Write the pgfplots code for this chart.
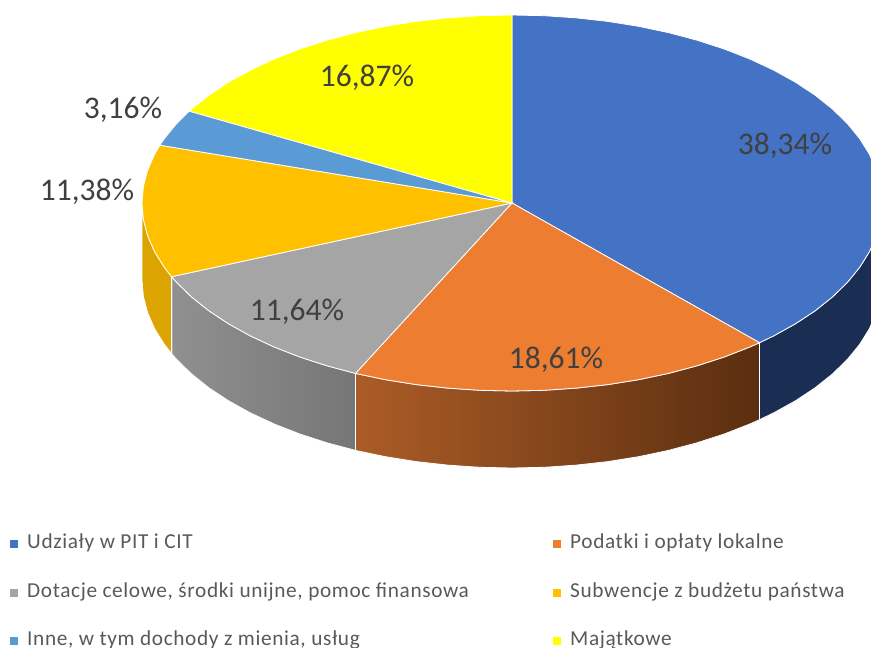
\documentclass[border=0pt]{standalone}
\usepackage{pgfplots}
\pgfplotsset{compat=1.18}
\usepackage{fontspec}
\setmainfont{Carlito}
\newfontfamily\legfont[LetterSpace=3]{Carlito}
\definecolor{c1}{HTML}{4472C4}
\definecolor{c2}{HTML}{ED7D31}
\definecolor{c3}{HTML}{A5A5A5}
\definecolor{c4}{HTML}{FFC000}
\definecolor{c5}{HTML}{5B9BD5}
\definecolor{c6}{HTML}{FFFF00}
\definecolor{lab}{HTML}{404040}
\definecolor{leg}{HTML}{595959}
\begin{document}
\begin{tikzpicture}
\useasboundingbox (0,0) rectangle (871pt,648pt);
\clip (0,0) rectangle (871pt,648pt);
\begin{axis}[
  scale only axis, width=871pt, height=648pt,
  xmin=0, xmax=871, ymin=0, ymax=648, y dir=reverse,
  hide axis,
  legend columns=2,
  legend cell align=left,
  legend image code/.code={\path[#1,draw=none] (0pt,-4pt) rectangle (8pt,4pt);},
  legend style={at={(axis cs:7,532.5)}, anchor=north west, draw=none, fill=none,
    font=\fontsize{21.3}{25}\selectfont\legfont\color{leg},
    row sep=29.5pt,
    nodes={inner xsep=3pt, inner ysep=0pt, text height=14pt, text depth=5pt}},
]
% sides
\addplot[forget plot, fill={rgb,255:red,26;green,45;blue,82}, draw=white, line width=0.8pt] coordinates {
(882,203)(880.6,219.4)(876.4,235.6)(869.4,251.7)(859.7,267.3)(847.3,282.5)(832.4,297)(815.1,310.8)(795.4,323.8)(773.6,335.9)(759.5,342.7)
(759.5,419.7)(773.6,412.9)(795.4,400.8)(815.1,387.8)(832.4,374)(847.3,359.5)(859.7,344.3)(869.4,328.7)(876.4,312.6)(880.6,296.4)(882,280)} --cycle;
\addplot[forget plot, left color={rgb,255:red,172;green,92;blue,38}, right color={rgb,255:red,90;green,46;blue,16}, draw=white, line width=0.8pt] coordinates {
(759.5,342.7)(749.8,347)(724.2,357)(697,365.8)(668.4,373.4)(638.5,379.7)(607.8,384.6)(576.3,388.1)(544.2,390.3)(512,391)(479.8,390.3)(447.7,388.1)(416.2,384.6)(385.5,379.7)(355.5,373.4)
(355.5,450.4)(385.5,456.7)(416.2,461.6)(447.7,465.1)(479.8,467.3)(512,468)(544.2,467.3)(576.3,465.1)(607.8,461.6)(638.5,456.7)(668.4,450.4)(697,442.8)(724.2,434)(749.8,424)(759.5,419.7)} --cycle;
\addplot[forget plot, left color={rgb,255:red,144;green,144;blue,144}, right color={rgb,255:red,118;green,118;blue,118}, draw=white, line width=0.8pt] coordinates {
(355.5,373.4)(327,365.8)(299.8,357)(274.2,347)(250.4,335.9)(228.6,323.8)(208.9,310.8)(191.6,297)(176.7,282.5)(171.6,276.7)
(171.6,353.7)(176.7,359.5)(191.6,374)(208.9,387.8)(228.6,400.8)(250.4,412.9)(274.2,424)(299.8,434)(327,442.8)(355.5,450.4)} --cycle;
\addplot[forget plot, fill={rgb,255:red,219;green,164;blue,0}, draw=white, line width=0.8pt] coordinates {
(171.6,276.7)(164.3,267.3)(154.6,251.7)(147.6,235.6)(143.4,219.4)(142,203)
(142,280)(143.4,296.4)(147.6,312.6)(154.6,328.7)(164.3,344.3)(171.6,353.7)} --cycle;
% tops
\addplot[fill=c1, draw=white, line width=0.8pt] coordinates {
(512,203)(512,15)(544.2,15.7)(576.3,17.9)(607.8,21.4)(638.5,26.3)(668.4,32.6)(697,40.2)(724.2,49)(749.8,59)(773.6,70.1)(795.4,82.2)(815.1,95.2)(832.4,109)(847.3,123.5)(859.7,138.7)(869.4,154.3)(876.4,170.4)(880.6,186.6)(882,203)(880.6,219.4)(876.4,235.6)(869.4,251.7)(859.7,267.3)(847.3,282.5)(832.4,297)(815.1,310.8)(795.4,323.8)(773.6,335.9)(759.5,342.7)} --cycle;
\addlegendentry{\makebox[529pt][l]{\hspace*{6pt}Udziały w PIT i CIT}}
\addplot[fill=c2, draw=white, line width=0.8pt] coordinates {
(512,203)(759.5,342.7)(749.8,347)(724.2,357)(697,365.8)(668.4,373.4)(638.5,379.7)(607.8,384.6)(576.3,388.1)(544.2,390.3)(512,391)(479.8,390.3)(447.7,388.1)(416.2,384.6)(385.5,379.7)(355.5,373.4)} --cycle;
\addlegendentry{\hspace*{6pt}Podatki i opłaty lokalne}
\addplot[fill=c3, draw=white, line width=0.8pt] coordinates {
(512,203)(355.5,373.4)(327,365.8)(299.8,357)(274.2,347)(250.4,335.9)(228.6,323.8)(208.9,310.8)(191.6,297)(176.7,282.5)(171.6,276.7)} --cycle;
\addlegendentry{\makebox[529pt][l]{\hspace*{6pt}Dotacje celowe, środki unijne, pomoc finansowa}}
\addplot[fill=c4, draw=white, line width=0.8pt] coordinates {
(512,203)(171.6,276.7)(164.3,267.3)(154.6,251.7)(147.6,235.6)(143.4,219.4)(142,203)(143.4,186.6)(147.6,170.4)(154.6,154.3)(159.9,145.2)} --cycle;
\addlegendentry{\hspace*{6pt}Subwencje z budżetu państwa}
\addplot[fill=c5, draw=white, line width=0.8pt] coordinates {
(512,203)(159.9,145.2)(164.3,138.7)(176.7,123.5)(189.3,111.1)} --cycle;
\addlegendentry{\makebox[529pt][l]{\hspace*{6pt}Inne, w tym dochody z mienia, usług}}
\addplot[fill=c6, draw=white, line width=0.8pt] coordinates {
(512,203)(189.3,111.1)(191.6,109)(208.9,95.2)(228.6,82.2)(250.4,70.1)(274.2,59)(299.8,49)(327,40.2)(355.6,32.6)(385.5,26.3)(416.2,21.4)(447.7,17.9)(479.8,15.7)(512,15)} --cycle;
\addlegendentry{\hspace*{6pt}Majątkowe}
\node[lab, font=\fontsize{31.5}{31}\selectfont] at (axis cs:785,146) {38,34\%};
\node[lab, font=\fontsize{31.5}{31}\selectfont] at (axis cs:556,360) {18,61\%};
\node[lab, font=\fontsize{31.5}{31}\selectfont] at (axis cs:297,312) {11,64\%};
\node[lab, font=\fontsize{31.5}{31}\selectfont] at (axis cs:87,192) {11,38\%};
\node[lab, font=\fontsize{31.5}{31}\selectfont] at (axis cs:123,110) {3,16\%};
\node[lab, font=\fontsize{31.5}{31}\selectfont] at (axis cs:367,78) {16,87\%};
\end{axis}
\end{tikzpicture}
\end{document}
